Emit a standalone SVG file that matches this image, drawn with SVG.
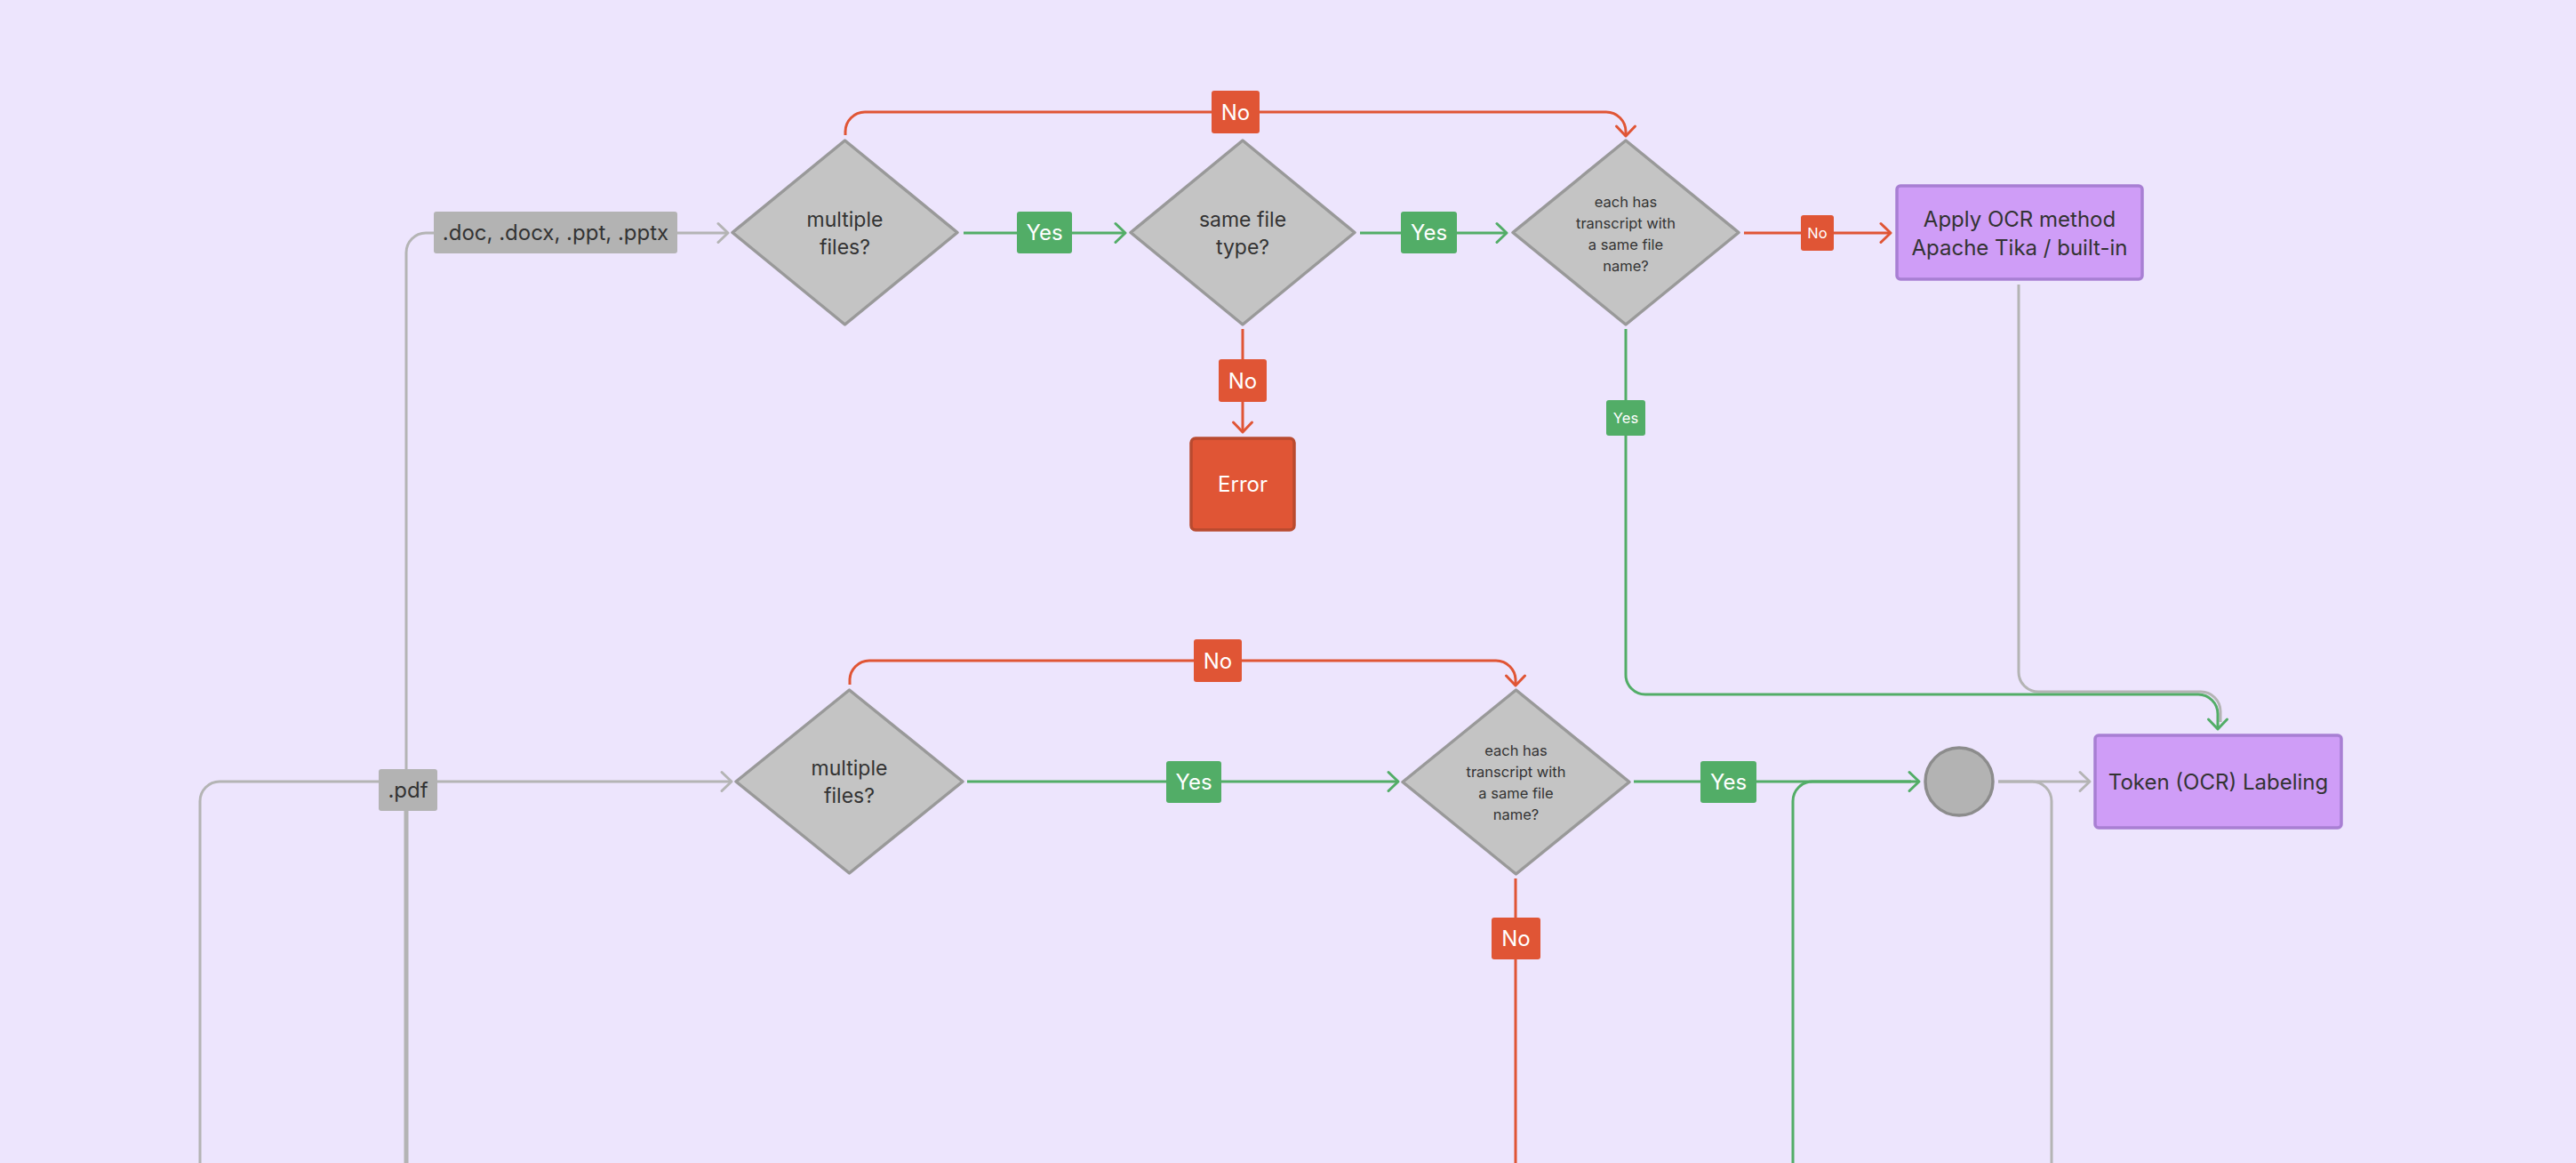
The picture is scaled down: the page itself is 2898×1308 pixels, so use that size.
<svg xmlns="http://www.w3.org/2000/svg" width="2898" height="1308" viewBox="0 0 2898 1308">
<style>
text{font-family:Inter,"Noto Sans","Liberation Sans",sans-serif;text-anchor:middle}
.c{fill:none;stroke-width:3;stroke-linecap:butt;stroke-linejoin:round}
.g{stroke:#52ad67}
.r{stroke:#e05535}
.k{stroke:#b4b4b4}
.dia{fill:#c4c4c4;stroke:#999;stroke-width:3.5;stroke-linejoin:round}
.dt{font-size:23px;fill:#333}
.ds{font-size:16.5px;fill:#333}
.lg{fill:#52ad67}
.lr{fill:#e05535}
.lk{fill:#b3b3b3}
.lt{font-size:24px;fill:#fff}
.lts{font-size:16.5px;fill:#fff}
.kt{font-size:24px;fill:#333}
.pb{fill:#cf9df7;stroke:#a87fd3;stroke-width:3.5}
.bt{font-size:24px;fill:#333}
</style>
<defs>
<marker id="ag" markerUnits="userSpaceOnUse" viewBox="-14 -14 20 28" refX="0" refY="0" markerWidth="20" markerHeight="28" orient="auto" overflow="visible"><path d="M-11 -10.5 L0 0 L-11 10.5" fill="none" stroke="#52ad67" stroke-width="3" stroke-linecap="round" stroke-linejoin="round"/></marker>
<marker id="ar" markerUnits="userSpaceOnUse" viewBox="-14 -14 20 28" refX="0" refY="0" markerWidth="20" markerHeight="28" orient="auto" overflow="visible"><path d="M-11 -10.5 L0 0 L-11 10.5" fill="none" stroke="#e05535" stroke-width="3" stroke-linecap="round" stroke-linejoin="round"/></marker>
<marker id="ak" markerUnits="userSpaceOnUse" viewBox="-14 -14 20 28" refX="0" refY="0" markerWidth="20" markerHeight="28" orient="auto" overflow="visible"><path d="M-11 -10.5 L0 0 L-11 10.5" fill="none" stroke="#b4b4b4" stroke-width="3" stroke-linecap="round" stroke-linejoin="round"/></marker>
</defs>
<rect width="2898" height="1308" fill="#ede5fd"/>

<g id="connectors">
<!-- gray -->
<path class="c k" d="M225 1308 V901 A22 22 0 0 1 247 879 H823" marker-end="url(#ak)"/>
<path class="c k" d="M457 912 V284 A22 22 0 0 1 479 262 H488"/>
<path class="c k" d="M457 912 V1308" style="stroke-width:5"/>
<path class="c k" d="M762 262 H819" marker-end="url(#ak)"/>
<path class="c k" d="M2271 320 V756 A22 22 0 0 0 2293 778 H2476 A22 22 0 0 1 2498 800 V812"/>
<path class="c k" d="M2248 879 H2351" marker-end="url(#ak)"/>
<path class="c k" d="M2248 879 H2286 A22 22 0 0 1 2308 901 V1308"/>
<!-- green -->
<path class="c g" d="M1084 262 H1266" marker-end="url(#ag)"/>
<path class="c g" d="M1530 262 H1695" marker-end="url(#ag)"/>
<path class="c g" d="M1829 370 V759 A22 22 0 0 0 1851 781 H2473 A22 22 0 0 1 2495 803 V820" marker-end="url(#ag)"/>
<path class="c g" d="M1088 879 H1573" marker-end="url(#ag)"/>
<path class="c g" d="M1838 879 H2159" marker-end="url(#ag)"/>
<path class="c g" d="M2017 1308 V901 A22 22 0 0 1 2039 879 H2150"/>
<!-- red -->
<path class="c r" d="M951 152 V148 A22 22 0 0 1 973 126 H1807 A22 22 0 0 1 1829 148 V153" marker-end="url(#ar)"/>
<path class="c r" d="M1398 370 V486" marker-end="url(#ar)"/>
<path class="c r" d="M1962 262 H2127" marker-end="url(#ar)"/>
<path class="c r" d="M956 770 V765 A22 22 0 0 1 978 743 H1683 A22 22 0 0 1 1705 765 V771" marker-end="url(#ar)"/>
<path class="c r" d="M1705 988 V1308"/>
<!-- edge labels -->
<rect class="lr" x="1363" y="102" width="54" height="48" rx="3"/><text class="lt" x="1390" y="135">No</text>
<rect class="lg" x="1144" y="238" width="62" height="47" rx="3"/><text class="lt" x="1175" y="270">Yes</text>
<rect class="lg" x="1576" y="238" width="63" height="47" rx="3"/><text class="lt" x="1607.5" y="270">Yes</text>
<rect class="lr" x="2026" y="242" width="37" height="40" rx="3"/><text class="lts" x="2044.5" y="268">No</text>
<rect class="lr" x="1371" y="404" width="54" height="48" rx="3"/><text class="lt" x="1398" y="437">No</text>
<rect class="lg" x="1807" y="450" width="44" height="40" rx="3"/><text class="lts" x="1829" y="476">Yes</text>
<rect class="lr" x="1343" y="719" width="54" height="48" rx="3"/><text class="lt" x="1370" y="752">No</text>
<rect class="lg" x="1312" y="856" width="62" height="47" rx="3"/><text class="lt" x="1343" y="888">Yes</text>
<rect class="lg" x="1913" y="856" width="63" height="47" rx="3"/><text class="lt" x="1944.5" y="888">Yes</text>
<rect class="lr" x="1678" y="1032" width="55" height="47" rx="3"/><text class="lt" x="1705.5" y="1064">No</text>
<rect class="lk" x="488" y="238" width="274" height="47" rx="3"/><text class="kt" x="625" y="270">.doc, .docx, .ppt, .pptx</text>
<rect class="lk" x="426" y="865" width="66" height="47" rx="3"/><text class="kt" x="459" y="897">.pdf</text>
</g>

<g id="d1"><polygon class="dia" points="950.5,158 1077,261.5 950.5,365 824,261.5"/><text class="dt" x="950.5" y="255">multiple</text><text class="dt" x="950.5" y="286">files?</text></g>
<g id="d2"><polygon class="dia" points="1398,158 1524,261.5 1398,365 1272,261.5"/><text class="dt" x="1398" y="255">same file</text><text class="dt" x="1398" y="286">type?</text></g>
<g id="d3"><polygon class="dia" points="1829,158 1956,261.5 1829,365 1702,261.5"/><text class="ds" x="1829" y="233">each has</text><text class="ds" x="1829" y="257">transcript with</text><text class="ds" x="1829" y="281">a same file</text><text class="ds" x="1829" y="305">name?</text></g>
<g id="ocr"><rect class="pb" x="2134" y="209" width="276" height="105" rx="4"/><text class="bt" x="2272" y="255">Apply OCR method</text><text class="bt" x="2272" y="287">Apache Tika / built-in</text></g>
<g id="error"><rect x="1340" y="493" width="116" height="103" rx="5" fill="#e05535" stroke="#b94a2f" stroke-width="3.5"/><text class="lt" x="1398" y="553">Error</text></g>
<g id="d4"><polygon class="dia" points="955.5,776 1083,879 955.5,982 828,879"/><text class="dt" x="955.5" y="872">multiple</text><text class="dt" x="955.5" y="903">files?</text></g>
<g id="d5"><polygon class="dia" points="1705.5,776 1833,879.5 1705.5,983 1578,879.5"/><text class="ds" x="1705.5" y="850">each has</text><text class="ds" x="1705.5" y="874">transcript with</text><text class="ds" x="1705.5" y="898">a same file</text><text class="ds" x="1705.5" y="922">name?</text></g>
<g id="merge"><circle cx="2204" cy="879" r="38" fill="#b3b3b3" stroke="#8c8c8c" stroke-width="3.5"/></g>
<g id="token"><rect class="pb" x="2357" y="827" width="277" height="104" rx="4"/><text class="bt" x="2495.5" y="888">Token (OCR) Labeling</text></g>
</svg>
